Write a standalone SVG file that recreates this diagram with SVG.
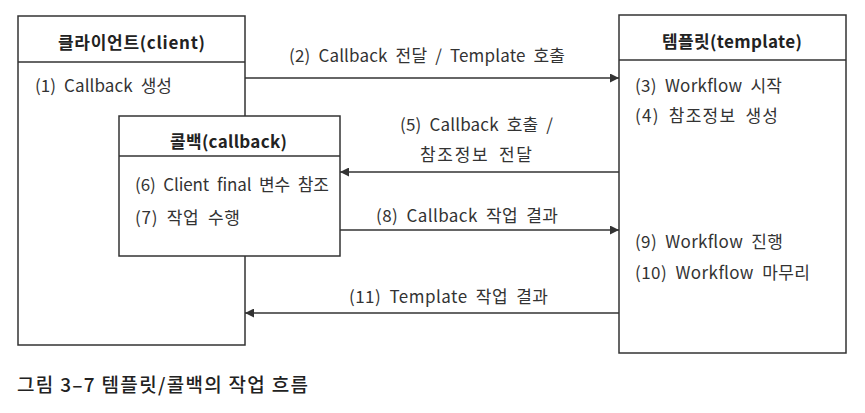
<svg xmlns="http://www.w3.org/2000/svg" width="865" height="413" viewBox="0 0 865 413">
<defs>
<marker id="arr" viewBox="0 0 10 10" refX="10" refY="5" markerWidth="11" markerHeight="9" markerUnits="userSpaceOnUse" orient="auto">
<path d="M0,0 L10,5 L0,10 z" fill="#333"/>
</marker>
<style>
.box{fill:#fff;stroke:#333;stroke-width:1.5}
.div{stroke:#333;stroke-width:1.5}
.hd{font-family:"Noto Sans CJK KR","Noto Sans",sans-serif;font-size:17px;font-weight:bold;fill:#222}
.tx{font-family:"Noto Sans CJK KR","Noto Sans",sans-serif;font-size:17px;fill:#333;word-spacing:4px}
.cap{font-family:"Noto Sans CJK KR","Noto Sans",sans-serif;font-size:19px;font-weight:500;fill:#222}
.con{stroke:#333;stroke-width:1.5;fill:none}
</style>
</defs>
<rect width="865" height="413" fill="#fff"/>
<g id="client">
<rect class="box" x="18" y="16" width="227" height="329"/>
<line class="div" x1="18" y1="62" x2="245" y2="62"/>
<text class="hd" x="58" y="49" textLength="147">클라이언트(client)</text>
<text class="tx" x="35" y="92" textLength="137">(1) Callback 생성</text>
</g>
<g id="template">
<rect class="box" x="619" y="15" width="227" height="338"/>
<line class="div" x1="619" y1="60" x2="846" y2="60"/>
<text class="hd" x="662" y="48" textLength="140">템플릿(template)</text>
<text class="tx" x="635" y="92" textLength="147">(3) Workflow 시작</text>
<text class="tx" x="635" y="122" textLength="143">(4) 참조정보 생성</text>
<text class="tx" x="635" y="248" textLength="148">(9) Workflow 진행</text>
<text class="tx" x="635" y="279" textLength="175">(10) Workflow 마무리</text>
</g>
<g id="callback">
<rect class="box" x="119" y="116" width="221" height="140"/>
<line class="div" x1="119" y1="156" x2="340" y2="156"/>
<text class="hd" x="170" y="148" textLength="117">콜백(callback)</text>
<text class="tx" x="135" y="191" textLength="194">(6) Client final 변수 참조</text>
<text class="tx" x="135" y="224" textLength="105">(7) 작업 수행</text>
</g>
<g id="connectors">
<line class="con" x1="245" y1="78" x2="619" y2="78" marker-end="url(#arr)"/>
<line class="con" x1="619" y1="172" x2="340" y2="172" marker-end="url(#arr)"/>
<line class="con" x1="340" y1="230" x2="619" y2="230" marker-end="url(#arr)"/>
<line class="con" x1="619" y1="313" x2="245" y2="313" marker-end="url(#arr)"/>
<text class="tx" x="289" y="62" textLength="276">(2) Callback 전달 / Template 호출</text>
<text class="tx" x="400" y="131" textLength="153">(5) Callback 호출 /</text>
<text class="tx" x="420" y="161" textLength="112">참조정보 전달</text>
<text class="tx" x="376" y="222" textLength="182">(8) Callback 작업 결과</text>
<text class="tx" x="349" y="303" textLength="199">(11) Template 작업 결과</text>
</g>
<text class="cap" x="17" y="392" textLength="291">그림 3–7 템플릿/콜백의 작업 흐름</text>
</svg>
